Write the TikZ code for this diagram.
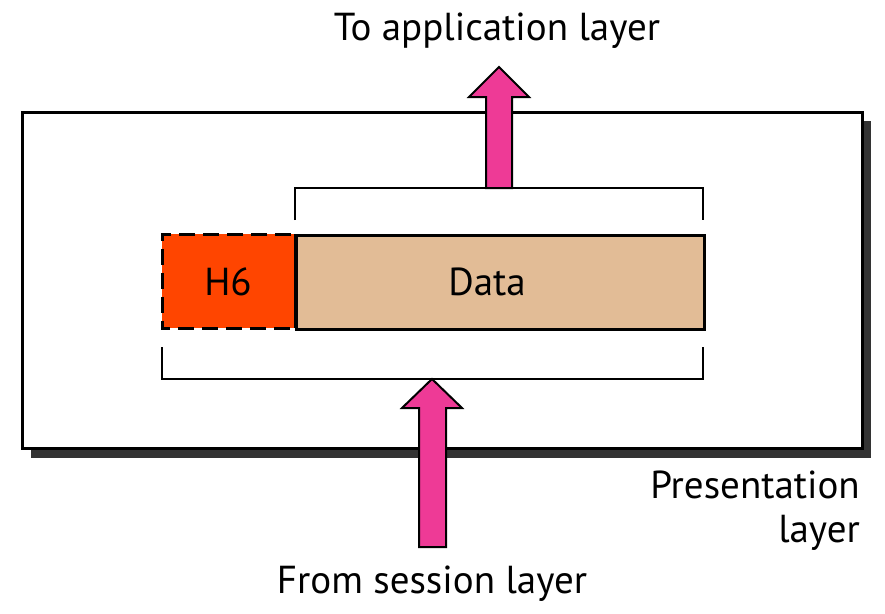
\documentclass[tikz,border=0pt]{standalone}
\usepackage{fontspec}
\setmainfont{PT Sans}
\definecolor{pinkarrow}{HTML}{EE3A96}
\definecolor{hdr}{HTML}{FF4500}
\definecolor{tan}{HTML}{E2BC96}
\definecolor{shadowc}{HTML}{333333}
\begin{document}
\begin{tikzpicture}[x=1pt,y=-1pt,
  lbl/.style={font=\fontsize{39}{44}\selectfont, inner sep=0pt},
  blockarrow/.style={fill=pinkarrow, draw=black, line width=2pt, line join=miter},
  bracket/.style={draw=black, line width=2.5pt}]
\useasboundingbox (0,0) rectangle (885,613);
\fill[white] (0,0) rectangle (885,613);
% shadow and layer box
\fill[shadowc] (31,121) rectangle (871,458);
\draw[line width=3pt, fill=white] (22,112) rectangle (862,448);
% data units
\node[draw=black, line width=2.5pt, fill=tan, minimum width=408pt, minimum height=94pt, anchor=north west, inner sep=0pt] (data) at (295,234) {};
\node[lbl, anchor=base] (datat) at (487,295) {Data};
\node[fill=hdr, minimum width=133pt, minimum height=94pt, anchor=north west, inner sep=0pt] (h6) at (162,234) {};
\node[lbl, anchor=base] (h6t) at (228,295) {H6};
\draw[line width=3pt, dash pattern=on 16pt off 8pt, dash phase=-4pt] (h6.north east) -- (h6.north west) -- (h6.south west) -- (h6.south east);
\draw[line width=2.5pt] (h6.north east) -- (h6.south east);
% brackets
\coordinate (tb1) at (295,220);
\coordinate (tb2) at (703,220);
\draw[bracket] (tb1) -- (295,188) -- (703,188) -- (tb2);
\coordinate (bb1) at (162,347);
\coordinate (bb2) at (703,347);
\draw[bracket] (bb1) -- (162,379) -- (703,379) -- (bb2);
% arrows
\draw[blockarrow] (486,188) -- (486,97) -- (469,97) -- (499,67) -- (529,97) -- (512,97) -- (512,188) -- cycle;
\draw[blockarrow] (419,547) -- (419,408) -- (402,408) -- (432,379) -- (462,408) -- (446,408) -- (446,547) -- cycle;
% labels
\node[lbl, anchor=base] (top) at (497,40) {To application layer};
\node[lbl, anchor=base] (bot) at (432,593) {From session layer};
\node[lbl, anchor=base east] (pres1) at (860,498) {Presentation};
\node[lbl, anchor=base east] (pres2) at (860,542) {layer};
\end{tikzpicture}
\end{document}
